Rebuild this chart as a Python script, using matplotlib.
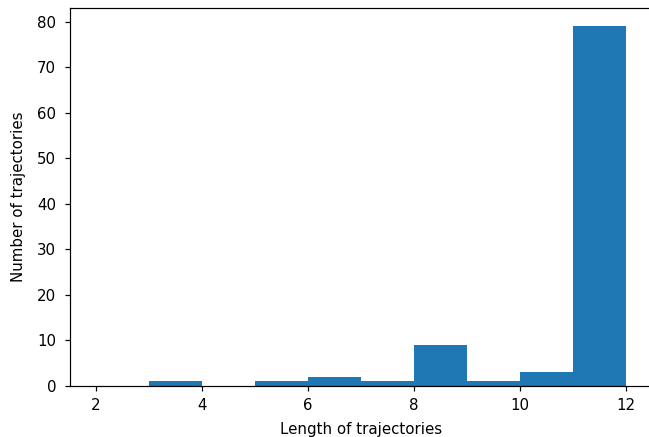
import matplotlib
matplotlib.use("Agg")
import matplotlib.pyplot as plt
import numpy as np

bin_edges = [2, 3, 4, 5, 6, 7, 8, 9, 10, 11, 12]
counts = [0, 1, 0, 1, 2, 1, 9, 1, 3, 79]

W, H, DPI = 649, 437, 108
fig = plt.figure(figsize=(W / DPI, H / DPI), dpi=DPI)
left, right, bottom, top = 69.5, 652.5, 386, 8.5
ax = fig.add_axes([left / W, (H - bottom) / H, (right - left) / W, (bottom - top) / H])
ax.hist(bin_edges[:-1], bins=bin_edges, weights=counts, color="#1f77b4")
ax.tick_params(axis="y", pad=5.5)
ax.tick_params(axis="x", pad=4.5)
ax.spines["right"].set_visible(False)
ax.set_xlabel("Length of trajectories", labelpad=6)
ax.set_ylabel("Number of trajectories", labelpad=7)
fig.savefig("out.png", dpi=DPI)
